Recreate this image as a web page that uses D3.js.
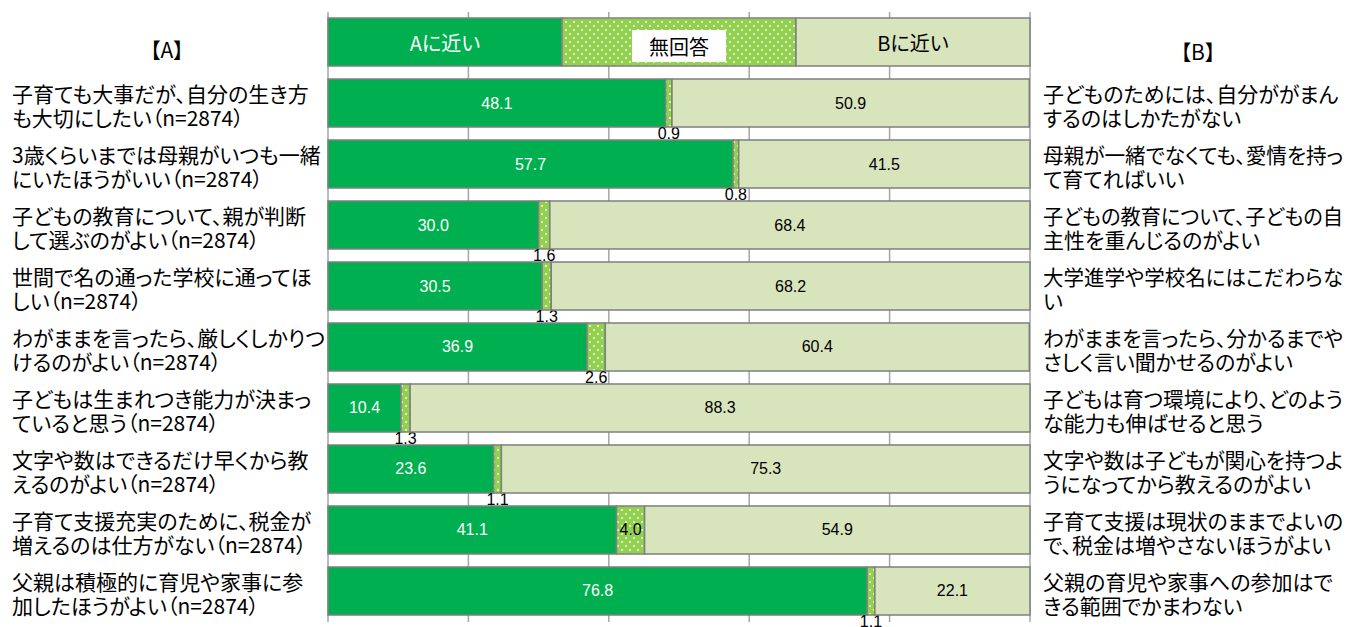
<!DOCTYPE html>
<html>
<head>
<meta charset="utf-8">
<script src="https://cdn.jsdelivr.net/npm/d3@7"></script>
<style>
  body { margin: 0; background: #fff; }
  .jp { font-family: "Noto Sans CJK JP", sans-serif; font-feature-settings: "palt"; fill: #000; }
  .num { font-family: "Liberation Sans", sans-serif; font-size: 16px; }
  .grid { stroke: #a6a6a6; stroke-width: 1.5; }
  .seg { stroke: #7f7f7f; stroke-width: 1.5; }
</style>
</head>
<body>
<svg id="chart"></svg>
<script>
// Data (percent)
const labelsA = [
  ['子育ても大事だが、自分の生き方', 'も大切にしたい（n=2874）'],
  ['3歳くらいまでは母親がいつも一緒', 'にいたほうがいい（n=2874）'],
  ['子どもの教育について、親が判断', 'して選ぶのがよい（n=2874）'],
  ['世間で名の通った学校に通ってほ', 'しい（n=2874）'],
  ['わがままを言ったら、厳しくしかりつ', 'けるのがよい（n=2874）'],
  ['子どもは生まれつき能力が決まっ', 'ていると思う（n=2874）'],
  ['文字や数はできるだけ早くから教', 'えるのがよい（n=2874）'],
  ['子育て支援充実のために、税金が', '増えるのは仕方がない（n=2874）'],
  ['父親は積極的に育児や家事に参', '加したほうがよい（n=2874）']
];
const labelsB = [
  ['子どものためには、自分ががまん', 'するのはしかたがない'],
  ['母親が一緒でなくても、愛情を持っ', 'て育てればいい'],
  ['子どもの教育について、子どもの自', '主性を重んじるのがよい'],
  ['大学進学や学校名にはこだわらな', 'い'],
  ['わがままを言ったら、分かるまでや', 'さしく言い聞かせるのがよい'],
  ['子どもは育つ環境により、どのよう', 'な能力も伸ばせると思う'],
  ['文字や数は子どもが関心を持つよ', 'うになってから教えるのがよい'],
  ['子育て支援は現状のままでよいの', 'で、税金は増やさないほうがよい'],
  ['父親の育児や家事への参加はで', 'きる範囲でかまわない']
];
const nearA    = [48.1, 57.7, 30.0, 30.5, 36.9, 10.4, 23.6, 41.1, 76.8];
const noAnswer = [0.9, 0.8, 1.6, 1.3, 2.6, 1.3, 1.1, 4.0, 1.1];
const nearB    = [50.9, 41.5, 68.4, 68.2, 60.4, 88.3, 75.3, 54.9, 22.1];
const seriesKeys = ['a', 'n', 'b'];
const legendLabels = ['Aに近い', '無回答', 'Bに近い'];
const headA = '【A】';
const headB = '【B】';
const gridTicks = [0, 20, 40, 60, 80, 100];

const W = 1355, H = 627;
const colors = { a: '#00b050', n: 'url(#dots)', b: '#d8e4bc' };

const svg = d3.select('#chart').attr('width', W).attr('height', H);

// dotted fill for "no answer"
const pat = svg.append('defs').append('pattern')
    .attr('id', 'dots').attr('patternUnits', 'userSpaceOnUse')
    .attr('width', 8).attr('height', 8);
pat.append('rect').attr('width', 8).attr('height', 8).attr('fill', '#92d050');
pat.append('circle').attr('cx', 2).attr('cy', 2).attr('r', 0.9).attr('fill', '#fff');
pat.append('circle').attr('cx', 6).attr('cy', 6).attr('r', 0.9).attr('fill', '#fff');

const rows = nearA.map((d, i) => ({ idx: i, a: d, n: noAnswer[i], b: nearB[i] }));
const stack = d3.stack().keys(seriesKeys)(rows);

const x = d3.scaleLinear().domain([0, 100]).range([328, 1030]);
// band 0 is the legend bar, 1..9 the questions
const y = d3.scaleBand().domain(d3.range(10)).range([18, 615]).paddingInner(0.213).paddingOuter(0);
const bh = y.bandwidth();

// gridlines
svg.append('g').selectAll('line').data(gridTicks).join('line')
    .attr('class', 'grid')
    .attr('x1', d => x(d)).attr('x2', d => x(d))
    .attr('y1', 12).attr('y2', 622);

// legend bar
const lg = svg.append('g');
lg.selectAll('rect').data(seriesKeys).join('rect')
    .attr('class', 'seg')
    .attr('x', (d, i) => x(i * 100 / 3))
    .attr('width', x(100 / 3) - x(0))
    .attr('y', y(0)).attr('height', bh)
    .attr('fill', d => colors[d]);
lg.append('rect')
    .attr('x', x(50) - 47).attr('width', 94)
    .attr('y', y(0) + 12).attr('height', bh - 16)
    .attr('fill', '#fff');
lg.selectAll('text').data(legendLabels).join('text')
    .attr('class', 'jp')
    .attr('x', (d, i) => x(i * 100 / 3 + 50 / 3))
    .attr('y', (d, i) => y(0) + bh / 2 + (i === 1 ? 4 : 0))
    .attr('text-anchor', 'middle').attr('dominant-baseline', 'central')
    .style('font-size', '20px')
    .style('fill', (d, i) => i === 0 ? '#fff' : '#000')
    .text(d => d);

// stacked bars
const layer = svg.append('g').selectAll('g').data(stack).join('g')
    .attr('fill', d => colors[d.key]);
layer.selectAll('rect').data(d => d).join('rect')
    .attr('class', 'seg')
    .attr('x', d => x(d[0]))
    .attr('width', d => x(d[1]) - x(d[0]))
    .attr('y', d => y(d.data.idx + 1))
    .attr('height', bh);

// value labels
layer.each(function(s) {
  d3.select(this).selectAll('text').data(s).join('text')
    .attr('class', 'num')
    .attr('text-anchor', 'middle').attr('dominant-baseline', 'central')
    .attr('x', d => x((d[0] + d[1]) / 2))
    .attr('y', d => {
      const inside = s.key !== 'n' || (d[1] - d[0]) >= 3;
      return y(d.data.idx + 1) + (inside ? bh / 2 : bh + 6);
    })
    .attr('fill', s.key === 'a' ? '#fff' : '#000')
    .text(d => d3.format('.1f')(d[1] - d[0]));
});

// side labels
function sideLabels(lines, x0, maxW) {
  const g = svg.append('g');
  lines.forEach((pair, i) => {
    const cy = y(i + 1) + bh / 2;
    pair.forEach((t, k) => {
      const el = g.append('text')
          .attr('class', 'jp')
          .attr('x', x0).attr('y', cy + (k === 0 ? -10 : 14))
          .attr('dominant-baseline', 'central')
          .style('font-size', '21px')
          .text(t);
      const len = el.node().getComputedTextLength();
      if (len > maxW) el.attr('textLength', maxW).attr('lengthAdjust', 'spacingAndGlyphs');
    });
  });
  return g;
}
sideLabels(labelsA, 12, 313);
sideLabels(labelsB, 1043, 300);

svg.append('text').attr('class', 'jp')
    .attr('x', 167).attr('y', 49)
    .attr('text-anchor', 'middle').attr('dominant-baseline', 'central')
    .style('font-size', '21px').text(headA);
svg.append('text').attr('class', 'jp')
    .attr('x', 1198).attr('y', 51)
    .attr('text-anchor', 'middle').attr('dominant-baseline', 'central')
    .style('font-size', '21px').text(headB);
</script>
</body>
</html>
